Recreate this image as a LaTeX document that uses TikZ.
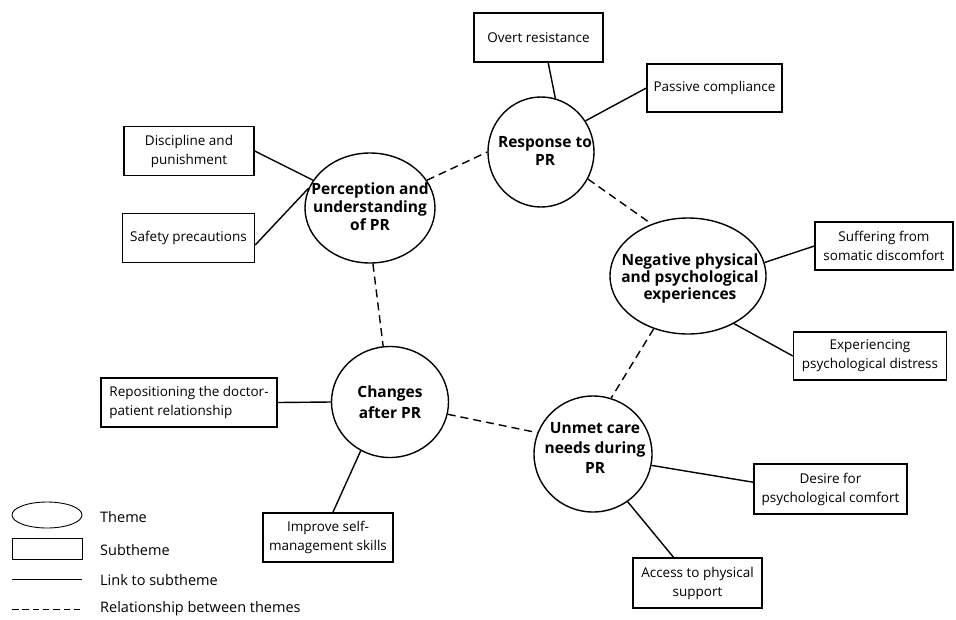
\documentclass[tikz,border=0pt]{standalone}
\usepackage{fontspec}
\setmainfont{Open Sans}
\usetikzlibrary{shapes.geometric}
\begin{document}
\begin{tikzpicture}[x=1pt,y=-1pt,
  themeshape/.style={ellipse,draw,line width=1.4pt,inner sep=0pt},
  themetext/.style={inner sep=0pt,align=center,font=\fontsize{15.5}{18}\selectfont\bfseries},
  sub/.style={rectangle,draw,line width=1.4pt,inner sep=0pt,align=center,font=\fontsize{13.5}{19}\selectfont},
  link/.style={line width=1.4pt},
  rel/.style={line width=1.4pt,dash pattern=on 8pt off 5pt},
  lbl/.style={anchor=west,inner sep=0pt,font=\fontsize{14.5}{16}\selectfont}]
\useasboundingbox (0,0) rectangle (956,619);

% themes
\node[themeshape,minimum width=106pt,minimum height=110pt] (resp) at (541,152) {};
\node[themetext] (resp-t) at (545,151) {Response to\\PR};
\node[themeshape,minimum width=130pt,minimum height=110pt] (perc) at (370,208) {};
\node[themetext] (perc-t) at (370,207) {Perception and\\understanding\\of PR};
\node[themeshape,minimum width=156pt,minimum height=116pt] (neg) at (688,276) {};
\node[themetext,font=\fontsize{15.5}{17}\selectfont\bfseries] (neg-t) at (690,278) {Negative physical\\and psychological\\experiences};
\node[themeshape,minimum width=117pt,minimum height=111pt] (chg) at (390,402) {};
\node[themetext,font=\fontsize{15.5}{21}\selectfont\bfseries] (chg-t) at (390,402) {Changes\\after PR};
\node[themeshape,minimum width=118pt,minimum height=116pt] (unm) at (593,454) {};
\node[themetext,font=\fontsize{15.5}{20}\selectfont\bfseries] (unm-t) at (595,448) {Unmet care\\needs during\\PR};

% subthemes
\node[sub,minimum width=129pt,minimum height=49pt] (or) at (538.5,37.5) {Overt resistance};
\node[sub,minimum width=135pt,minimum height=48pt] (pc) at (714.5,88) {Passive compliance};
\node[sub,minimum width=130pt,minimum height=49pt] (dp) at (189,151) {Discipline and\\punishment};
\node[sub,minimum width=132pt,minimum height=49pt] (sp) at (188.5,238) {Safety precautions};
\node[sub,minimum width=138pt,minimum height=48pt] (sd) at (884,246) {Suffering from\\somatic discomfort};
\node[sub,minimum width=153pt,minimum height=48pt] (pd) at (870,356) {Experiencing\\psychological distress};
\node[sub,minimum width=176pt,minimum height=49pt,align=left] (rd) at (189,402.5) {Repositioning the doctor-\\patient relationship};
\node[sub,minimum width=130pt,minimum height=49pt] (im) at (328,537.5) {Improve self-\\management skills};
\node[sub,minimum width=153pt,minimum height=50pt] (dc) at (830.5,489) {Desire for\\psychological comfort};
\node[sub,minimum width=129pt,minimum height=50pt] (ap) at (697.5,583) {Access to physical\\support};

% links to subthemes
\draw[link] (or.-69) -- (resp.75);
\draw[link] (pc.west) -- (resp.35);
\draw[link] (dp.east) -- (perc.154);
\draw[link] (sp.-6) -- (perc.162);
\draw[link] (sd.west) -- (neg.10);
\draw[link] (pd.west) -- (neg.-46);
\draw[link] (rd.east) -- (chg.west);
\draw[link] (im.79) -- (chg.-121);
\draw[link] (dc.175) -- (unm.-11);
\draw[link] (ap.133) -- (unm.-54);

% relationships between themes
\draw[rel] (perc.26) -- (resp.180);
\draw[rel] (resp.-30) -- (neg.125);
\draw[rel] (perc.-87) -- (chg.97);
\draw[rel] (chg.-12) -- (unm.159);
\draw[rel] (neg.-123) -- (unm.72);

% legend
\node[ellipse,draw,line width=0.9pt,inner sep=0pt,minimum width=70pt,minimum height=26pt] (lgT) at (47,515) {};
\node[rectangle,draw,line width=0.9pt,inner sep=0pt,minimum width=70pt,minimum height=21pt] (lgS) at (47,548.5) {};
\coordinate (l1a) at (12,579);
\coordinate (l1b) at (82,579);
\coordinate (l2a) at (12,609);
\coordinate (l2b) at (82,609);
\draw[line width=0.9pt] (l1a) -- (l1b);
\draw[line width=0.9pt,dash pattern=on 6.5pt off 3.8pt] (l2a) -- (l2b);
\node[lbl] (lgT-t) at (100,517) {Theme};
\node[lbl] (lgS-t) at (100,550) {Subtheme};
\node[lbl] (l1-t) at (100,580) {Link to subtheme};
\node[lbl] (l2-t) at (100,609) {Relationship between themes};
\end{tikzpicture}
\end{document}
